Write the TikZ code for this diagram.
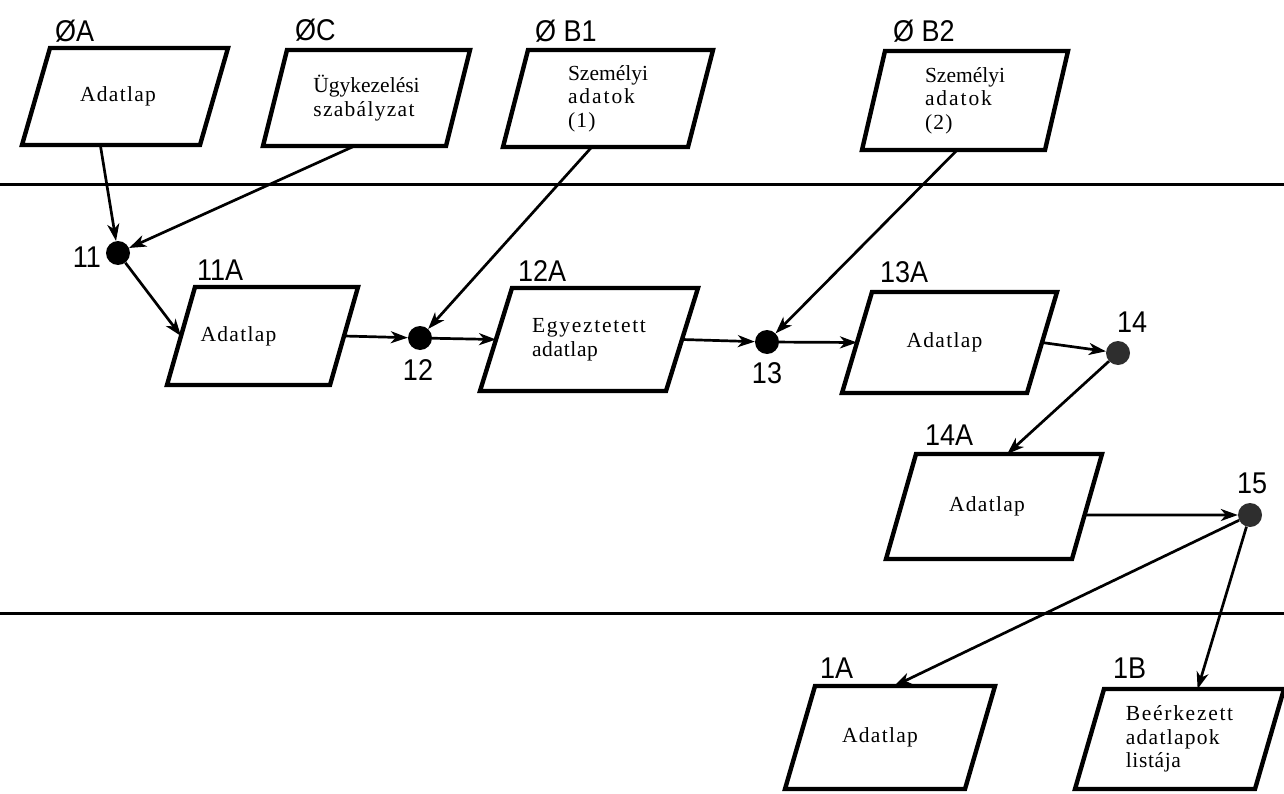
\documentclass[tikz,border=0pt]{standalone}
\usepackage{fontspec}
\setmainfont{Liberation Serif}[LetterSpace=6]
\newfontfamily\labfont{Liberation Sans}[FakeStretch=0.9]
\newcommand\ls[2]{{\addfontfeature{LetterSpace=#1}#2}}
\usetikzlibrary{arrows.meta,calc}
\newcommand\drawpara[2]{%
  \coordinate (#1-bl) at (#1.south west);
  \coordinate (#1-br) at ($(#1.south east)+(-#2,0)$);
  \coordinate (#1-tr) at (#1.north east);
  \coordinate (#1-tl) at ($(#1.north west)+(#2,0)$);
  \draw[boxline] (#1-bl) -- (#1-br) -- (#1-tr) -- (#1-tl) -- cycle;}
\begin{document}
\begin{tikzpicture}[x=1pt,y=-1pt,
  pbox/.style 2 args={rectangle, minimum width=#1, minimum height=#2,
    inner sep=0pt, outer sep=0pt, font=\fontsize{21.5}{23.5}\selectfont},
  boxline/.style={line width=4.4pt, line join=miter},
  lab/.style={font=\labfont\fontsize{30}{32}\selectfont, inner sep=0pt},
  junct/.style={circle, fill=#1, minimum size=24pt, inner sep=0pt},
  arr/.style={line width=2.7pt, -{Stealth[length=17pt,width=12pt,inset=5pt]}},
  lane/.style={line width=3pt}]
\useasboundingbox (0,0) rectangle (1284,794);

% separator lines
\coordinate (L1w) at (0,185);   \coordinate (L1e) at (1284,185);
\coordinate (L2w) at (0,613);   \coordinate (L2e) at (1284,613);
\draw[lane] (L1w) -- (L1e);
\draw[lane] (L2w) -- (L2e);

% boxes
\node[pbox={206}{97}] (b0A) at (125,96.5) {Adatlap\kern14pt};
\drawpara{b0A}{28}
\node[pbox={207}{96}, align=left] (b0C) at (366.5,98) {\ls{0}{Ügykezelési}\\szabályzat};
\drawpara{b0C}{24}
\node[pbox={210}{97}, align=left] (b0B1) at (608,98.5) {\ls{0}{Személyi}\\\ls{9}{adatok}\\(1)};
\drawpara{b0B1}{25}
\node[pbox={206}{99}, align=left] (b0B2) at (965,100.5) {\ls{0}{Személyi}\\\ls{9}{adatok}\\(2)};
\drawpara{b0B2}{23}
\node[pbox={191}{98}] (b11A) at (262.5,336) {Adatlap\kern48pt};
\drawpara{b11A}{28}
\node[pbox={218}{103}, align=left] (b12A) at (589,339.5) {\ls{8}{Egyeztetett}\\\ls{3}{adatlap}};
\drawpara{b12A}{32}
\node[pbox={215}{101}] (b13A) at (949.5,342.5) {Adatlap\kern10pt};
\drawpara{b13A}{30}
\node[pbox={216}{105}] (b14A) at (994,506.5) {Adatlap\kern14pt};
\drawpara{b14A}{30}
\node[pbox={210}{103}] (b1A) at (890,737.5) {Adatlap\kern20pt};
\drawpara{b1A}{30}
\node[pbox={209}{100}, align=left] (b1B) at (1179.5,739) {\ls{8}{Beérkezett}\\adatlapok\\\ls{3}{listája}};
\drawpara{b1B}{29}

% labels
\node[lab, anchor=base west] (l0A) at (55,42) {ØA};
\node[lab, anchor=base west] (l0C) at (295,41) {ØC};
\node[lab, anchor=base west] (l0B1) at (535,42) {Ø B1};
\node[lab, anchor=base west] (l0B2) at (893,42) {Ø B2};
\node[lab, anchor=base west] (l11A) at (197,280) {11A};
\node[lab, anchor=base west] (l12A) at (518,281) {12A};
\node[lab, anchor=base west] (l13A) at (880,282) {13A};
\node[lab, anchor=base west] (l14A) at (925,445) {14A};
\node[lab, anchor=base west] (l1A) at (820,678) {1A};
\node[lab, anchor=base west] (l1B) at (1113,678) {1B};

% junctions
\node[junct=black] (d11) at (118,253) {};
\node[junct=black] (d12) at (420,338) {};
\node[junct=black] (d13) at (767,342) {};
\node[junct=black!82] (d14) at (1118,353) {};
\node[junct=black!82] (d15) at (1250,515) {};
\node[lab, anchor=base east] (l11) at (101,267) {11};
\node[lab, anchor=base] (l12) at (418,380) {12};
\node[lab, anchor=base] (l13) at (767,383) {13};
\node[lab, anchor=base west] (l14) at (1117,332) {14};
\node[lab, anchor=base west] (l15) at (1237,493) {15};

% connectors
\draw[arr] ($(b0A-bl)!0.44!(b0A-br)$) -- (d11);
\draw[arr] ($(b0C-bl)!0.5!(b0C-br)$) -- (d11);
\draw[arr] (d11) -- ($(b11A-bl)!0.5!(b11A-tl)$);
\draw[arr] ($(b11A-br)!0.5!(b11A-tr)$) -- (d12);
\draw[arr] ($(b0B1-bl)!0.48!(b0B1-br)$) -- (d12);
\draw[arr] (d12) -- ($(b12A-bl)!0.5!(b12A-tl)$);
\draw[arr] ($(b12A-br)!0.5!(b12A-tr)$) -- (d13);
\draw[arr] ($(b0B2-bl)!0.52!(b0B2-br)$) -- (d13);
\draw[arr] (d13) -- ($(b13A-bl)!0.5!(b13A-tl)$);
\draw[arr] ($(b13A-br)!0.5!(b13A-tr)$) -- (d14);
\draw[arr] (d14) -- ($(b14A-tl)!0.49!(b14A-tr)$);
\draw[arr] ($(b14A-tr)!0.58!(b14A-br)$) -- (d15);
\draw[arr] (d15) -- ($(b1A-tl)!0.44!(b1A-tr)$);
\draw[arr] (d15) -- ($(b1B-tl)!0.52!(b1B-tr)$);
\end{tikzpicture}
\end{document}
